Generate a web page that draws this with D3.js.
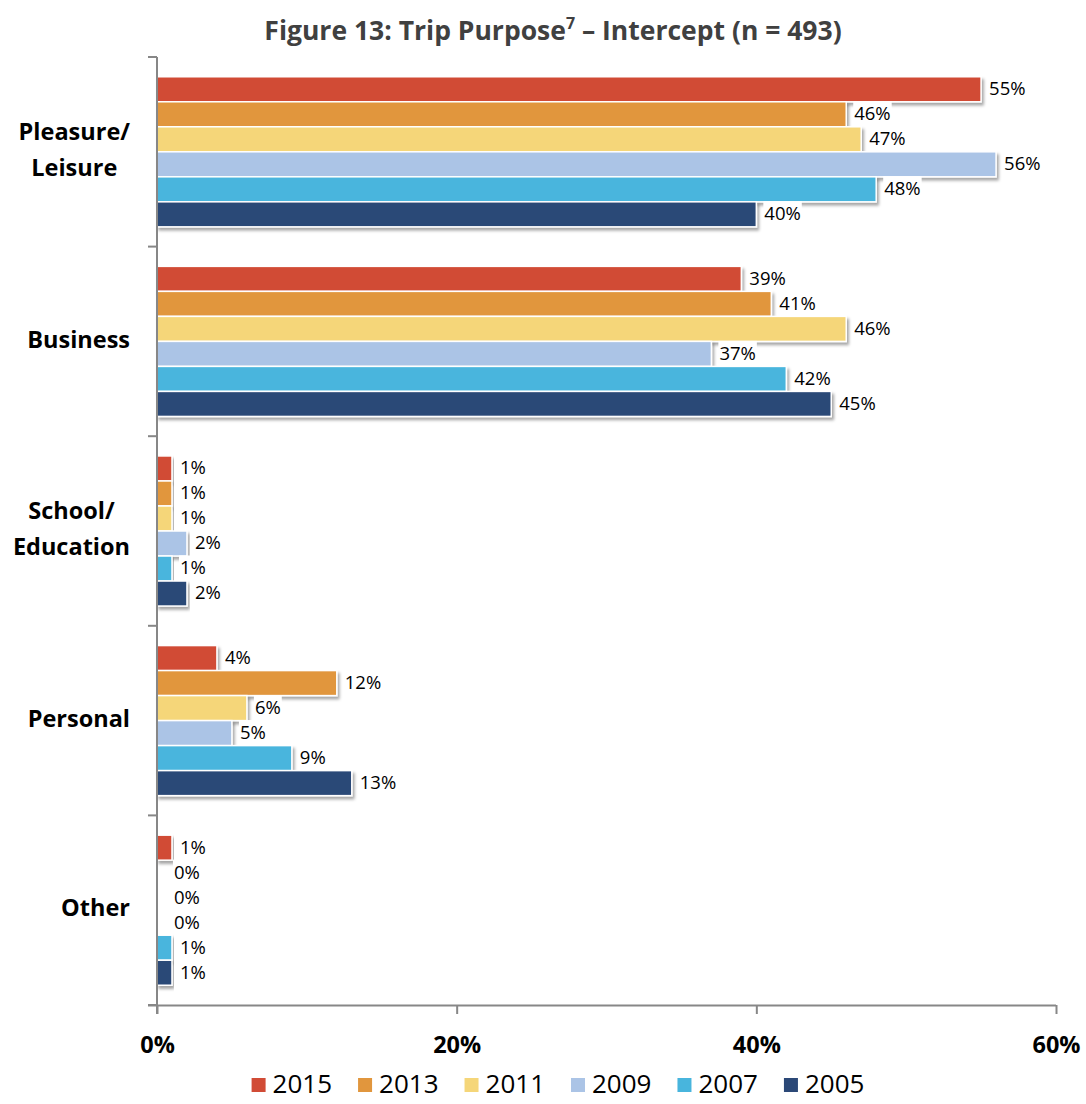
<!DOCTYPE html>
<html>
<head>
<meta charset="utf-8">
<script src="https://cdn.jsdelivr.net/npm/d3@7"></script>
<style>
  html, body { margin: 0; padding: 0; background: #fff; }
  svg { display: block; font-family: "Open Sans", "Noto Sans", sans-serif; }
</style>
</head>
<body>
<svg id="chart" width="1086" height="1104"></svg>
<script>
// Trip purpose shares by survey year (percent of respondents)
const categories = ["Pleasure/\nLeisure", "Business", "School/\nEducation", "Personal", "Other"];
const years = ["2015", "2013", "2011", "2009", "2007", "2005"];
const values2015 = [55, 39, 1, 4, 1];
const values2013 = [46, 41, 1, 12, 0];
const values2011 = [47, 46, 1, 6, 0];
const values2009 = [56, 37, 2, 5, 0];
const values2007 = [48, 42, 1, 9, 1];
const values2005 = [40, 45, 2, 13, 1];
const xTicks = [0, 20, 40, 60];
const colors = ["#D14B36", "#E1963D", "#F5D679", "#ABC4E6", "#48B5DD", "#2B4877"];

const seriesValues = [values2015, values2013, values2011, values2009, values2007, values2005];
const rows = categories.map((c, i) => ({
  category: c,
  bars: years.map((y, j) => ({ year: y, value: seriesValues[j][i], color: colors[j] }))
}));

const svg = d3.select("#chart");
const plotLeft = 157, plotRight = 1056, plotTop = 57, plotBottom = 1005;

const x = d3.scaleLinear().domain([0, 60]).range([plotLeft, plotRight]);
const y0 = d3.scaleBand().domain(categories).range([plotTop, plotBottom]).padding(0);
const y1 = d3.scaleBand().domain(years).range([0, y0.bandwidth()]).paddingInner(0).paddingOuter(0.79);

// soft drop shadow under bars
const defs = svg.append("defs");
const f = defs.append("filter").attr("id", "shadow").attr("x", "-5%").attr("y", "-30%").attr("width", "115%").attr("height", "180%");
f.append("feDropShadow").attr("dx", 2).attr("dy", 3).attr("stdDeviation", 1.8)
  .attr("flood-color", "#000").attr("flood-opacity", 0.35);

// title
const title = svg.append("text")
  .attr("x", 553).attr("y", 40)
  .attr("text-anchor", "middle")
  .attr("font-size", 26.5).attr("font-weight", "bold").attr("fill", "#404040");
title.append("tspan").text("Figure 13: Trip Purpose");
title.append("tspan").attr("font-size", 16).attr("dy", -11).text("7");
title.append("tspan").attr("dy", 11).text(" \u2013 Intercept (n = 493)");

// bars
const groups = svg.append("g").selectAll("g.cat").data(rows).join("g")
  .attr("class", "cat")
  .attr("transform", d => `translate(0,${y0(d.category)})`);

groups.selectAll("rect").data(d => d.bars.filter(b => b.value > 0)).join("rect")
  .attr("x", x(0))
  .attr("y", d => y1(d.year))
  .attr("width", d => x(d.value) - x(0))
  .attr("height", y1.bandwidth())
  .attr("fill", d => d.color)
  .attr("stroke", "#fff")
  .attr("stroke-width", 1.5)
  .attr("filter", "url(#shadow)");

// value labels with white backing
const labels = groups.selectAll("g.lbl").data(d => d.bars).join("g").attr("class", "lbl");
labels.each(function(d) {
  const g = d3.select(this);
  const t = g.append("text")
    .attr("x", x(d.value) + (d.value === 0 ? 17 : 8))
    .attr("y", y1(d.year) + y1.bandwidth() / 2 + 1)
    .attr("dominant-baseline", "middle")
    .attr("font-size", 18.5).attr("fill", "#000")
    .text(d.value + "%");
  const bb = t.node().getBBox();
  g.insert("rect", "text")
    .attr("x", bb.x - 1).attr("y", bb.y + 1)
    .attr("width", bb.width + 2).attr("height", bb.height - 2)
    .attr("fill", "#fff");
});

// axes
const axisColor = "#878787";
const yAxis = svg.append("g");
yAxis.append("line").attr("x1", plotLeft).attr("x2", plotLeft).attr("y1", plotTop).attr("y2", plotBottom + 9)
  .attr("stroke", axisColor).attr("stroke-width", 2);
const yTickPos = categories.map(c => y0(c)).concat([plotBottom]);
yAxis.selectAll("line.tick").data(yTickPos).join("line").attr("class", "tick")
  .attr("x1", plotLeft - 9).attr("x2", plotLeft).attr("y1", d => d).attr("y2", d => d)
  .attr("stroke", axisColor).attr("stroke-width", 2);

const xAxis = svg.append("g").attr("transform", `translate(0,${plotBottom})`)
  .call(d3.axisBottom(x).tickValues(xTicks).tickFormat(d => d + "%").tickSize(9).tickSizeOuter(0).tickPadding(22));
xAxis.select(".domain").attr("stroke", axisColor).attr("stroke-width", 2)
  .attr("d", `M${plotLeft - 9},0.5H${plotRight}`);
xAxis.selectAll(".tick line").attr("stroke", axisColor).attr("stroke-width", 2);
xAxis.selectAll(".tick text").attr("font-size", 23.5).attr("font-weight", "bold").attr("fill", "#000")
  .attr("font-family", "Open Sans, sans-serif");

// category labels: block right-aligned, lines centred within the block
const catRight = 130;
const catG = svg.append("g");
rows.forEach(r => {
  const lines = r.category.split("\n");
  const cy = y0(r.category) + y0.bandwidth() / 2;
  const lh = 36;
  const g = catG.append("g");
  const texts = lines.map((ln, i) => g.append("text")
    .attr("y", cy + (i - (lines.length - 1) / 2) * lh)
    .attr("dominant-baseline", "middle")
    .attr("text-anchor", "middle")
    .attr("font-size", 23.5).attr("font-weight", "bold").attr("fill", "#000")
    .text(ln));
  const w = d3.max(texts, t => t.node().getComputedTextLength());
  texts.forEach(t => t.attr("x", catRight - w / 2));
});

// legend
const legend = svg.append("g");
const items = legend.selectAll("g").data(years).join("g");
items.append("rect").attr("width", 14).attr("height", 14).attr("y", -7)
  .attr("fill", (d, i) => colors[i]);
items.append("text").attr("x", 21).attr("dominant-baseline", "middle").attr("y", 1)
  .attr("font-size", 26).attr("fill", "#000").text(d => d);
let cx = 0;
items.each(function() {
  const g = d3.select(this);
  g.attr("transform", `translate(${cx},0)`);
  cx += this.getBBox().width + 26;
});
const totalW = cx - 26;
legend.attr("transform", `translate(${558 - totalW / 2},1085)`);
</script>
</body>
</html>
